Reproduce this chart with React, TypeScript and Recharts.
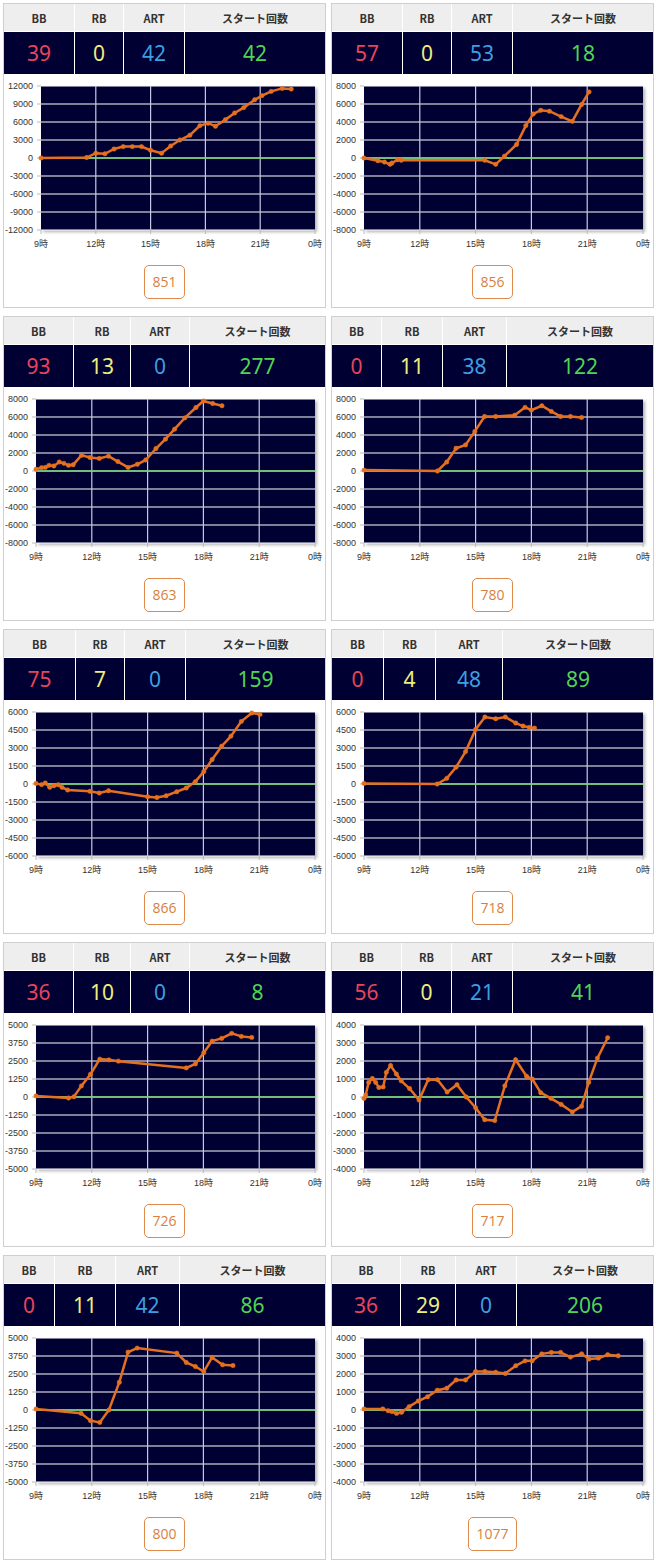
import { LineChart, Line, XAxis, YAxis, CartesianGrid, ReferenceLine } from 'recharts';

// header stats, one entry per machine (reading order: left→right, top→bottom)
const machineNos = ['851', '856', '863', '780', '866', '718', '726', '717', '800', '1077'];
const bbCounts = [39, 57, 93, 0, 75, 0, 36, 56, 0, 36];
const rbCounts = [0, 0, 13, 11, 7, 4, 10, 0, 11, 29];
const artCounts = [42, 53, 0, 38, 0, 48, 0, 21, 42, 0];
const startCounts = [42, 18, 277, 122, 159, 89, 8, 41, 86, 206];
const yMax = [12000, 8000, 8000, 8000, 6000, 6000, 5000, 4000, 5000, 4000];
const hourTicks = [9, 12, 15, 18, 21, 24];
const headLabels = ['BB', 'RB', 'ART', 'スタート回数'];

// difference graphs: hour of day / coins
const h851 = [9.0, 11.5, 12.0, 12.5, 13.0, 13.5, 14.0, 14.5, 15.0, 15.6, 16.1, 16.6, 17.15, 17.7, 18.15, 18.55, 19.1, 19.6, 20.1, 20.7, 21.1, 21.6, 22.2, 22.7];
const d851 = [0, 80, 800, 700, 1500, 1900, 1900, 1900, 1300, 800, 2000, 3000, 3800, 5400, 5800, 5300, 6400, 7500, 8400, 9700, 10400, 11100, 11600, 11500];
const h856 = [9.0, 9.75, 10.1, 10.4, 10.5, 10.8, 11.0, 15.5, 16.08, 16.55, 17.2, 17.7, 18.1, 18.5, 18.97, 19.6, 20.2, 20.7, 21.1];
const d856 = [0, -300, -450, -700, -560, -200, -250, -250, -700, 200, 1500, 3600, 4900, 5300, 5200, 4600, 4070, 5950, 7350];
const h863 = [9.0, 9.3, 9.5, 9.7, 9.96, 10.25, 10.5, 10.75, 11.0, 11.45, 11.9, 12.4, 12.9, 13.4, 13.95, 14.45, 14.9, 15.45, 15.96, 16.45, 17.0, 17.6, 18.0, 18.5, 19.0];
const d863 = [200, 370, 400, 630, 560, 1000, 850, 630, 700, 1750, 1500, 1400, 1650, 1050, 400, 750, 1230, 2500, 3540, 4650, 5900, 7050, 7780, 7500, 7250];
const h780 = [9.0, 12.95, 13.45, 13.95, 14.46, 14.96, 15.48, 16.08, 17.1, 17.66, 18.0, 18.56, 19.07, 19.57, 20.1, 20.7];
const d780 = [100, 0, 1000, 2530, 2900, 4400, 6060, 6060, 6200, 7070, 6770, 7250, 6620, 6060, 6060, 5950];
const h866 = [9.0, 9.3, 9.5, 9.74, 9.96, 10.2, 10.4, 10.7, 11.9, 12.4, 12.9, 15.0, 15.5, 16.0, 16.57, 17.08, 17.57, 18.02, 18.47, 18.98, 19.48, 20.04, 20.6, 21.04];
const d866 = [50, -50, 80, -280, -140, -60, -280, -500, -610, -750, -560, -1060, -1120, -980, -640, -335, 200, 1030, 2040, 3150, 3990, 5220, 5920, 5800];
const h718 = [9.0, 12.94, 13.45, 13.95, 14.46, 15.0, 15.5, 16.08, 16.6, 17.16, 17.55, 17.88, 18.17];
const d718 = [50, 0, 470, 1400, 2700, 4550, 5580, 5440, 5580, 5080, 4830, 4720, 4660];
const h726 = [9.0, 10.75, 11.04, 11.44, 11.93, 12.43, 12.92, 13.43, 17.08, 17.57, 18.02, 18.47, 18.98, 19.52, 20.04, 20.6];
const d726 = [70, -70, 20, 770, 1580, 2630, 2580, 2490, 2020, 2300, 3070, 3880, 4070, 4420, 4210, 4140];
const h717 = [9.0, 9.09, 9.25, 9.45, 9.63, 9.8, 10.03, 10.2, 10.43, 10.74, 11.0, 11.45, 11.96, 12.45, 12.95, 13.47, 14.0, 14.5, 15.0, 15.49, 16.03, 16.57, 17.15, 17.74, 18.05, 18.5, 19.05, 19.6, 20.2, 20.7, 21.08, 21.55, 22.1];
const d717 = [-75, 110, 810, 1030, 810, 530, 560, 1370, 1750, 1280, 900, 470, -170, 960, 960, 280, 680, 0, -600, -1260, -1310, 620, 2070, 1150, 1000, 240, -75, -410, -830, -510, 810, 2160, 3290];
const h800 = [9.0, 11.42, 11.93, 12.43, 12.92, 13.48, 13.95, 14.44, 16.57, 17.08, 17.57, 18.02, 18.47, 19.03, 19.59];
const d800 = [70, -230, -740, -860, 0, 1930, 4020, 4300, 3950, 3300, 3020, 2670, 3650, 3140, 3090];
const h1077 = [9.0, 10.01, 10.3, 10.5, 10.75, 11.02, 11.43, 11.92, 12.42, 12.94, 13.45, 13.95, 14.46, 15.0, 15.5, 16.08, 16.6, 17.16, 17.66, 18.04, 18.56, 19.07, 19.57, 20.1, 20.7, 21.1, 21.6, 22.1, 22.67];
const d1077 = [60, 60, -40, -90, -190, -130, 190, 500, 740, 1100, 1210, 1670, 1670, 2140, 2140, 2100, 2030, 2460, 2730, 2730, 3120, 3200, 3200, 2940, 3120, 2830, 2880, 3070, 3010];

const hours = [h851, h856, h863, h780, h866, h718, h726, h717, h800, h1077];
const diffs = [d851, d856, d863, d780, d866, d718, d726, d717, d800, d1077];

// table column widths (BB, RB, ART; the rest goes to スタート回数)
const colWidths = [
  [70, 48, 60], [70, 48, 60],
  [69, 56, 58], [49, 60, 63],
  [71, 48, 60], [51, 51, 66],
  [69, 56, 58], [69, 49, 60],
  [50, 60, 63], [68, 54, 60],
];

const NAVY = '#000033';
const ORANGE = '#e5701f';
const TICK_FONT = "'Liberation Sans', 'Noto Sans CJK JP', sans-serif";
const JP_FONT = "'Noto Sans CJK JP', sans-serif";
const valueColors = ['#e8445c', '#eeee7c', '#3d9fe0', '#52d452'];

function Panel({ idx, left, top }: { idx: number; left: number; top: number }) {
  const data = hours[idx].map((h, k) => ({ h, v: diffs[idx][k] }));
  const max = yMax[idx];
  const yTicks = [-4, -3, -2, -1, 0, 1, 2, 3, 4].map((k) => (k * max) / 4);
  const yw = max >= 10000 ? 37 : 32;
  const plotW = 321 - yw - 10;
  const [w1, w2, w3] = colWidths[idx];
  const values = [bbCounts[idx], rbCounts[idx], artCounts[idx], startCounts[idx]];

  return (
    <div
      style={{
        position: 'absolute',
        left,
        top,
        width: 323,
        height: 305,
        boxSizing: 'border-box',
        border: '1px solid #cfcfcf',
        background: '#fff',
      }}
    >
      <div
        style={{
          display: 'grid',
          gridTemplateColumns: `${w1}px ${w2}px ${w3}px 1fr`,
          gridTemplateRows: '27px 42px',
          gap: 1,
          background: '#fff',
        }}
      >
        {headLabels.map((l) => (
          <div
            key={l}
            style={{
              background: '#eeeeee',
              color: '#333',
              fontFamily: JP_FONT,
              fontWeight: 600,
              fontSize: 11,
              display: 'flex',
              alignItems: 'center',
              justifyContent: 'center',
            }}
          >
            {l}
          </div>
        ))}
        {values.map((v, k) => (
          <div
            key={k}
            style={{
              background: NAVY,
              color: valueColors[k],
              fontFamily: "'Noto Sans', sans-serif",
              fontSize: 21,
              display: 'flex',
              alignItems: 'center',
              justifyContent: 'center',
            }}
          >
            {v}
          </div>
        ))}
      </div>
      <div style={{ position: 'relative', width: 321, height: 185 }}>
        <div
          style={{
            position: 'absolute',
            left: yw,
            top: 12,
            width: plotW,
            height: 144,
            background: NAVY,
            boxShadow: '2px 2px 3px rgba(0,0,0,0.3)',
          }}
        />
        <LineChart
          width={321}
          height={185}
          data={data}
          margin={{ top: 12, right: 10, bottom: 0, left: 0 }}
        >
          <CartesianGrid vertical={false} stroke="#ffffff" strokeWidth={1.2} />
          {hourTicks.slice(1, -1).map((t) => (
            <ReferenceLine key={t} x={t} stroke="#c8c8e4" strokeWidth={1.2} />
          ))}
          <XAxis
            dataKey="h"
            type="number"
            domain={[9, 24]}
            ticks={hourTicks}
            interval={0}
            height={29}
            axisLine={false}
            tickLine={{ stroke: '#bbb' }}
            tickSize={4}
            tickMargin={7}
            tick={{ fontSize: 9, fill: '#333', fontFamily: TICK_FONT }}
            tickFormatter={(v: number) => `${v % 24}時`}
          />
          <YAxis
            type="number"
            domain={[-max, max]}
            ticks={yTicks}
            interval={0}
            width={yw}
            axisLine={false}
            tickLine={{ stroke: '#bbb' }}
            tickSize={4}
            tickMargin={4}
            tick={{ fontSize: 9, fill: '#333', fontFamily: TICK_FONT }}
          />
          <ReferenceLine y={0} stroke="#6fd06f" strokeWidth={1.5} />
          <Line
            type="linear"
            dataKey="v"
            stroke={ORANGE}
            strokeWidth={2.5}
            dot={{ r: 2.2, fill: ORANGE, stroke: ORANGE, strokeWidth: 0.5 }}
            isAnimationActive={false}
          />
        </LineChart>
      </div>
      <div style={{ textAlign: 'center', marginTop: 6 }}>
        <span
          style={{
            display: 'inline-block',
            boxSizing: 'border-box',
            height: 34,
            lineHeight: '32px',
            padding: '0 7px',
            border: '1px solid #dd8a4c',
            borderRadius: 5,
            color: '#d9803e',
            fontSize: 14,
            fontFamily: "'Open Sans', sans-serif",
          }}
        >
          {machineNos[idx]}
        </span>
      </div>
    </div>
  );
}

export default function App() {
  return (
    <div style={{ position: 'relative', width: 656, height: 1565, background: '#fff' }}>
      <style>{'body{margin:0}'}</style>
      {machineNos.map((_, i) => (
        <Panel key={i} idx={i} left={i % 2 === 0 ? 3 : 331} top={3 + 313 * Math.floor(i / 2)} />
      ))}
    </div>
  );
}
